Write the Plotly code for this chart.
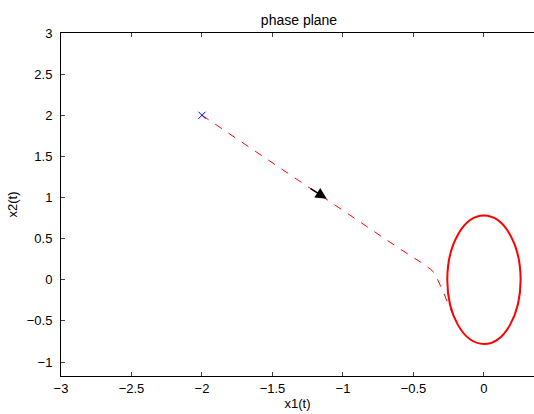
import plotly.graph_objects as go

# Data
start_x1 = [-2.0]
start_x2 = [2.0]

traj_x1 = [-2.0, -1.5, -1.0, -0.6, -0.45, -0.38, -0.35, -0.32, -0.29, -0.26, -0.23, -0.212]
traj_x2 = [2.0, 1.42, 0.845, 0.38, 0.215, 0.13, 0.08, -0.02, -0.14, -0.27, -0.39, -0.45]

# limit cycle (ellipse) semi-axes
cycle_a = 0.26
cycle_b = 0.78

# arrow (tail -> head)
arrow_tail = (-1.24, 1.12)
arrow_head = (-1.115, 0.985)

x_ticks = [-3, -2.5, -2, -1.5, -1, -0.5, 0]
y_ticks = [-1, -0.5, 0, 0.5, 1, 1.5, 2, 2.5, 3]

fam = "Liberation Sans, Arial, sans-serif"
tick_font = dict(family=fam, size=13, color="black")
label_font = dict(family=fam, size=13, color="black")
title_font = dict(family=fam, size=14, color="black")

fig = go.Figure()
fig.add_trace(go.Scatter(x=traj_x1, y=traj_x2, mode="lines",
                         line=dict(color="red", width=1, dash="8px,8px"),
                         hoverinfo="skip"))
fig.add_trace(go.Scatter(x=start_x1, y=start_x2, mode="markers",
                         marker=dict(symbol="x-thin", size=7, line=dict(color="blue", width=1))))

fig.add_shape(type="circle", xref="x", yref="y",
              x0=-cycle_a, x1=cycle_a, y0=-cycle_b, y1=cycle_b,
              line=dict(color="red", width=2))

fig.add_annotation(x=arrow_head[0], y=arrow_head[1], ax=arrow_tail[0], ay=arrow_tail[1],
                   xref="x", yref="y", axref="x", ayref="y",
                   showarrow=True, arrowhead=2, arrowsize=1.4, arrowwidth=1.6,
                   arrowcolor="black", text="")

fig.update_layout(
    width=534, height=414,
    margin=dict(l=61, r=0, t=33, b=38),
    paper_bgcolor="white", plot_bgcolor="white",
    showlegend=False,
    font=tick_font,
    title=dict(text="phase plane", x=(61 + 537) / 2 / 534, xanchor="center",
               y=1 - 20 / 414, yanchor="middle", font=title_font),
    xaxis=dict(range=[-3, 0.355], tickvals=x_ticks, ticks="inside", ticklen=4,
               showline=True, linecolor="black", linewidth=1, mirror="ticks",
               showgrid=False, zeroline=False, automargin=False,
               title=dict(text="x1(t)", standoff=3, font=label_font), tickfont=tick_font),
    yaxis=dict(range=[-1.17, 3], tickvals=y_ticks, ticks="inside", ticklen=4,
               showline=True, linecolor="black", linewidth=1, mirror=False,
               showgrid=False, zeroline=False, ticklabelstandoff=5, automargin=False,
               title=dict(text="x2(t)", standoff=6, font=label_font), tickfont=tick_font),
)

fig.write_html("out.html", config={"displayModeBar": False},
               post_script="document.body.style.margin='0';")
